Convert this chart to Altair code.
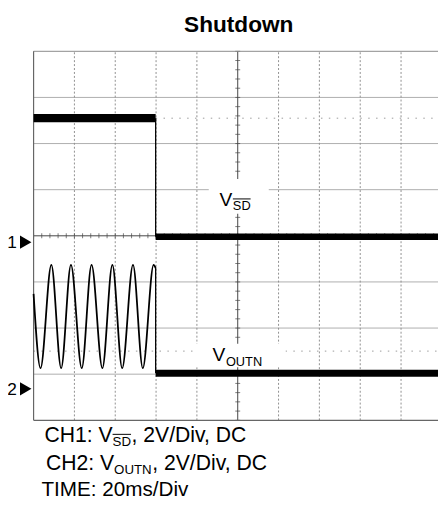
import altair as alt
import pandas as pd

FONT = "Liberation Sans"

# ---------------- data (time in ms, 20 ms/div; amplitude in screen divisions 0..8) ----
X_END = 198.1            # visible part of the 10-division screen
EDGE_T = 59.8            # shutdown edge

# CH1: V_SD
ch1_high = 6.55
ch1_low = 3.98
# CH2: V_OUTN sine burst (peaks / troughs)
ch2_sine_t = [0, 3.4, 8.7, 13.5, 18.3, 23.6, 28.4, 33.7, 38.6, 43.4, 48.7, 53.5, 58.8, 59.8]
ch2_sine_v = [2.74, 1.13, 3.37, 1.13, 3.37, 1.13, 3.37, 1.13, 3.37, 1.13, 3.37, 1.13, 3.37, 3.30]
ch2_low = 1.02

# graticule
grid_x = [20, 40, 60, 80, 120, 140, 160, 180]
grid_y = [1, 2, 3, 5, 6, 7]
center_x = 100
center_y = 4
minor_t = [i * 4 for i in range(50)]
minor_v = [round(i * 0.2, 2) for i in range(41)]
cursor_ch1 = 6.55
cursor_ch2 = 1.5

# label boxes (white background behind channel labels)
box_t = [85.8, 78.6]
box_t2 = [115.2, 123.4]
box_v = [4.48, 1.15]
box_v2 = [5.23, 1.66]

title_text = "Shutdown"
markers = ["1", "2"]
cap_rows = [
    [("CH1: V", 21.5, 0), ("SD", 13.5, 4.5), (", 2V/Div, DC", 21.5, 0)],
    [("CH2: V", 21.5, 0), ("OUTN", 13.5, 5), (", 2V/Div, DC", 21.5, 0)],
    [("TIME: 20ms/Div", 21, 0)],
]
cap_x = [11, 12.5, 8]
cap_y = [397, 425, 452]

# ---------------- helpers -----------------------------------------------------------
W, H = 411, 375
xs = alt.Scale(domain=[0, X_END], nice=False, zero=False)
ys = alt.Scale(domain=[0, 8], nice=False, zero=False)

AW = {'C': 722, 'H': 722, '1': 556, '2': 556, ':': 278, ' ': 278, 'V': 667, 'S': 667,
      'D': 722, ',': 278, '/': 278, 'i': 222, 'v': 500, 'O': 778, 'U': 722, 'T': 611,
      'N': 722, 'I': 278, 'M': 833, 'E': 667, '0': 556, 'm': 833, 's': 500}


def tw(s, size):
    return sum(AW.get(c, 556) for c in s) / 1000 * size


def X(f='t'):
    return alt.X(f + ':Q', scale=xs, axis=None)


def Y(f='v'):
    return alt.Y(f + ':Q', scale=ys, axis=None)


def hrule(ts, t2s, vs, **mk):
    df = pd.DataFrame({'t': ts, 't2': t2s, 'v': vs})
    return alt.Chart(df).mark_rule(**mk).encode(x=X(), x2='t2:Q', y=Y())


def vrule(ts, vs, v2s, **mk):
    df = pd.DataFrame({'t': ts, 'v': vs, 'v2': v2s})
    return alt.Chart(df).mark_rule(**mk).encode(x=X(), y=Y(), y2='v2:Q')


layers = []
# horizontal graticule
layers.append(hrule([0] * len(grid_y), [X_END] * len(grid_y), grid_y, color='#adadad', strokeWidth=1))
# vertical dotted graticule
layers.append(vrule(grid_x, [0] * len(grid_x), [8] * len(grid_x), color='#8f8f8f', strokeWidth=1,
                    strokeDash=[2, 2]))
# cursor dotted lines
layers.append(hrule([EDGE_T, 0], [X_END, X_END], [cursor_ch1, cursor_ch2], color='#9a9a9a',
                    strokeWidth=1, strokeDash=[1.5, 6.5]))
# centre axes with minor ticks
layers.append(hrule([0], [X_END], [center_y], color='#444444', strokeWidth=1))
layers.append(vrule([center_x], [0], [8], color='#444444', strokeWidth=1))
layers.append(alt.Chart(pd.DataFrame({'t': minor_t, 'v': [center_y] * len(minor_t)}))
              .mark_tick(orient='vertical', size=5, thickness=1, color='#444444')
              .encode(x=X(), y=Y()))
layers.append(alt.Chart(pd.DataFrame({'t': [center_x] * len(minor_v), 'v': minor_v}))
              .mark_tick(orient='horizontal', size=5, thickness=1, color='#444444')
              .encode(x=X(), y=Y()))
# frame (top, left, bottom)
layers.append(hrule([0], [X_END], [8], color='#8a8a8a', strokeWidth=1))
layers.append(hrule([0], [X_END], [0], color='#666666', strokeWidth=1.2))
layers.append(vrule([0], [0], [8], color='#666666', strokeWidth=1.2))
# label boxes
layers.append(alt.Chart(pd.DataFrame({'t': box_t, 't2': box_t2, 'v': box_v, 'v2': box_v2}))
              .mark_rect(color='white')
              .encode(x=X(), x2='t2:Q', y=Y(), y2='v2:Q'))


# channel labels inside the screen
def label(t, v, main, sub, sub_dy, overline=False):
    out = []
    base = alt.Chart(pd.DataFrame({'t': [t], 'v': [v]})).encode(x=X(), y=Y())
    out.append(base.mark_text(text=main, font=FONT, fontSize=19.5, align='left', baseline='alphabetic',
                              color='black'))
    dx = tw(main, 19.5) + 0.5
    out.append(base.mark_text(text=sub, font=FONT, fontSize=13, align='left', baseline='alphabetic',
                              dx=dx, dy=sub_dy, color='black'))
    if overline:
        out.append(alt.Chart(pd.DataFrame({'t': [t], 'v': [v]}))
                   .mark_rule(color='black', strokeWidth=1, xOffset=dx, x2Offset=dx + tw(sub, 13),
                              yOffset=-7)
                   .encode(x=X(), x2='t:Q', y=Y()))
    return out


layers += label(91.1, 4.65, "V", "SD", 4.5, overline=True)
layers += label(87.7, 1.28, "V", "OUTN", 5)

# traces
layers.append(alt.Chart(pd.DataFrame({'t': ch2_sine_t, 'v': ch2_sine_v}))
              .mark_line(color='black', strokeWidth=1.8, interpolate='monotone')
              .encode(x=X(), y=Y()))
layers.append(vrule([EDGE_T, EDGE_T], [ch1_high, ch2_sine_v[-1]], [ch1_low, ch2_low],
                    color='black', strokeWidth=1.3))
layers.append(hrule([0], [EDGE_T], [ch1_high], color='black', strokeWidth=8.5))
layers.append(hrule([EDGE_T], [X_END], [ch1_low], color='black', strokeWidth=6.5))
layers.append(hrule([EDGE_T], [X_END], [ch2_low], color='black', strokeWidth=7))

# channel ground markers (outside left)
for m, py in zip(markers, [200, 349]):
    one = alt.Chart(pd.DataFrame({'m': [m]}))
    layers.append(one.mark_text(font=FONT, fontSize=17.5, align='right', baseline='alphabetic', color='black')
                  .encode(text='m:N', x=alt.value(-17), y=alt.value(py)))
    layers.append(one.mark_point(shape='triangle-right', filled=True, size=180, color='black', opacity=1)
                  .encode(x=alt.value(-8), y=alt.value(py - 6)))

# title
layers.append(alt.Chart(pd.DataFrame({'s': [title_text]}))
              .mark_text(font=FONT, fontSize=23, fontWeight='bold', align='center', baseline='alphabetic',
                         color='black')
              .encode(text='s:N', x=alt.value(208.5), y=alt.value(-20)))

# caption
for row, x0, y0 in zip(cap_rows, cap_x, cap_y):
    x = x0
    for txt, size, dy in row:
        layers.append(alt.Chart(pd.DataFrame({'s': [txt]}))
                      .mark_text(font=FONT, fontSize=size, align='left', baseline='alphabetic', color='black')
                      .encode(text='s:N', x=alt.value(x), y=alt.value(y0 + dy)))
        if txt == "SD":
            layers.append(alt.Chart(pd.DataFrame({'a': [0]}))
                          .mark_rule(color='black', strokeWidth=1)
                          .encode(x=alt.value(x), x2=alt.value(x + tw(txt, size)),
                                  y=alt.value(y0 + dy - size * 0.72 - 2.5)))
        x += tw(txt, size) + (0.5 if dy else 0)

chart = alt.layer(*layers).properties(
    width=W, height=H,
    autosize=alt.AutoSizeParams(type='none'),
    padding={'left': 26, 'top': 40, 'right': 0, 'bottom': 78},
).configure_view(stroke=None)

chart.save("out.html", embed_options={"renderer": "svg", "actions": False})
